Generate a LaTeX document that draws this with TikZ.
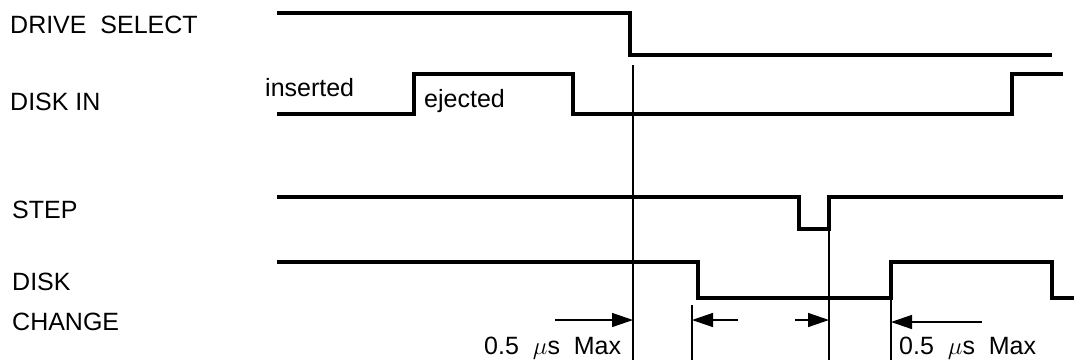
\documentclass[tikz,border=0pt]{standalone}
\usepackage{fontspec}
\setmainfont{Liberation Sans}
\usetikzlibrary{positioning,arrows.meta}

\begin{document}
\begin{tikzpicture}[x=1pt,y=-1pt,
        sig/.style={line width=4.5pt,black,line join=miter},
        marker/.style={line width=1.4pt,black},
        tim/.style={line width=1.4pt,black,-{Triangle[length=21pt,width=14pt]}},
        lbl/.style={anchor=base west,inner sep=0pt,font=\fontsize{25}{28}\selectfont}]
            \useasboundingbox (0,0) rectangle (1074,360);
            % Signal names
            \node[lbl] (drvsel) at (10,33) {DRIVE\ \ SELECT};
            \node[lbl] (diskin) at (10,110) {DISK IN};
            \node[lbl] (step) at (12,218) {STEP};
            \node[lbl] (dchg) at (12,290) {DISK};
            \node[lbl] (dchgb) at (12,330) {CHANGE};
            \node[lbl] (ins) at (265,96) {inserted};
            \node[lbl] (ej) at (424,107) {ejected};
            % Waveforms
            \draw[sig] (277,13) -| (630,55) -- (1052,55); % drive select
            \draw[sig] (277,114) -| (414,74) -| (573,114) -| (1012,74) -- (1063,74); % disk in
            \draw[sig] (277,197) -| (799,229) -| (829,197) -- (1063,197); % step
            \draw[sig] (277,262) -| (698,298) -| (891,262) -| (1052,298) -- (1074,298); % disk change
            % Timing marks
            \coordinate (m1a) at (633,65);  \coordinate (m1b) at (633,360);
            \coordinate (m2a) at (692,305); \coordinate (m2b) at (692,360);
            \coordinate (m3a) at (829,229); \coordinate (m3b) at (829,360);
            \coordinate (m4a) at (891,298); \coordinate (m4b) at (891,360);
            \foreach \m in {m1,m2,m3,m4}
                \draw[marker] (\m a) -- (\m b);
            \coordinate (t1) at (555,320); \coordinate (h1) at (633,320);
            \coordinate (t2) at (738,320); \coordinate (h2) at (692,320);
            \coordinate (t3) at (795,320); \coordinate (h3) at (829,320);
            \coordinate (t4) at (982,322); \coordinate (h4) at (891,322);
            \draw[tim] (t1) -- (h1);
            \draw[tim] (t2) -- (h2);
            \draw[tim] (t3) -- (h3);
            \draw[tim] (t4) -- (h4);
            \node[lbl] (maxa) at (484,354) {0.5\ \ $\mu\mathrm{s}$\ \ Max};
            \node[lbl] (maxb) at (899,354) {0.5\ \ $\mu\mathrm{s}$\ \ Max};
\end{tikzpicture}
\end{document}
